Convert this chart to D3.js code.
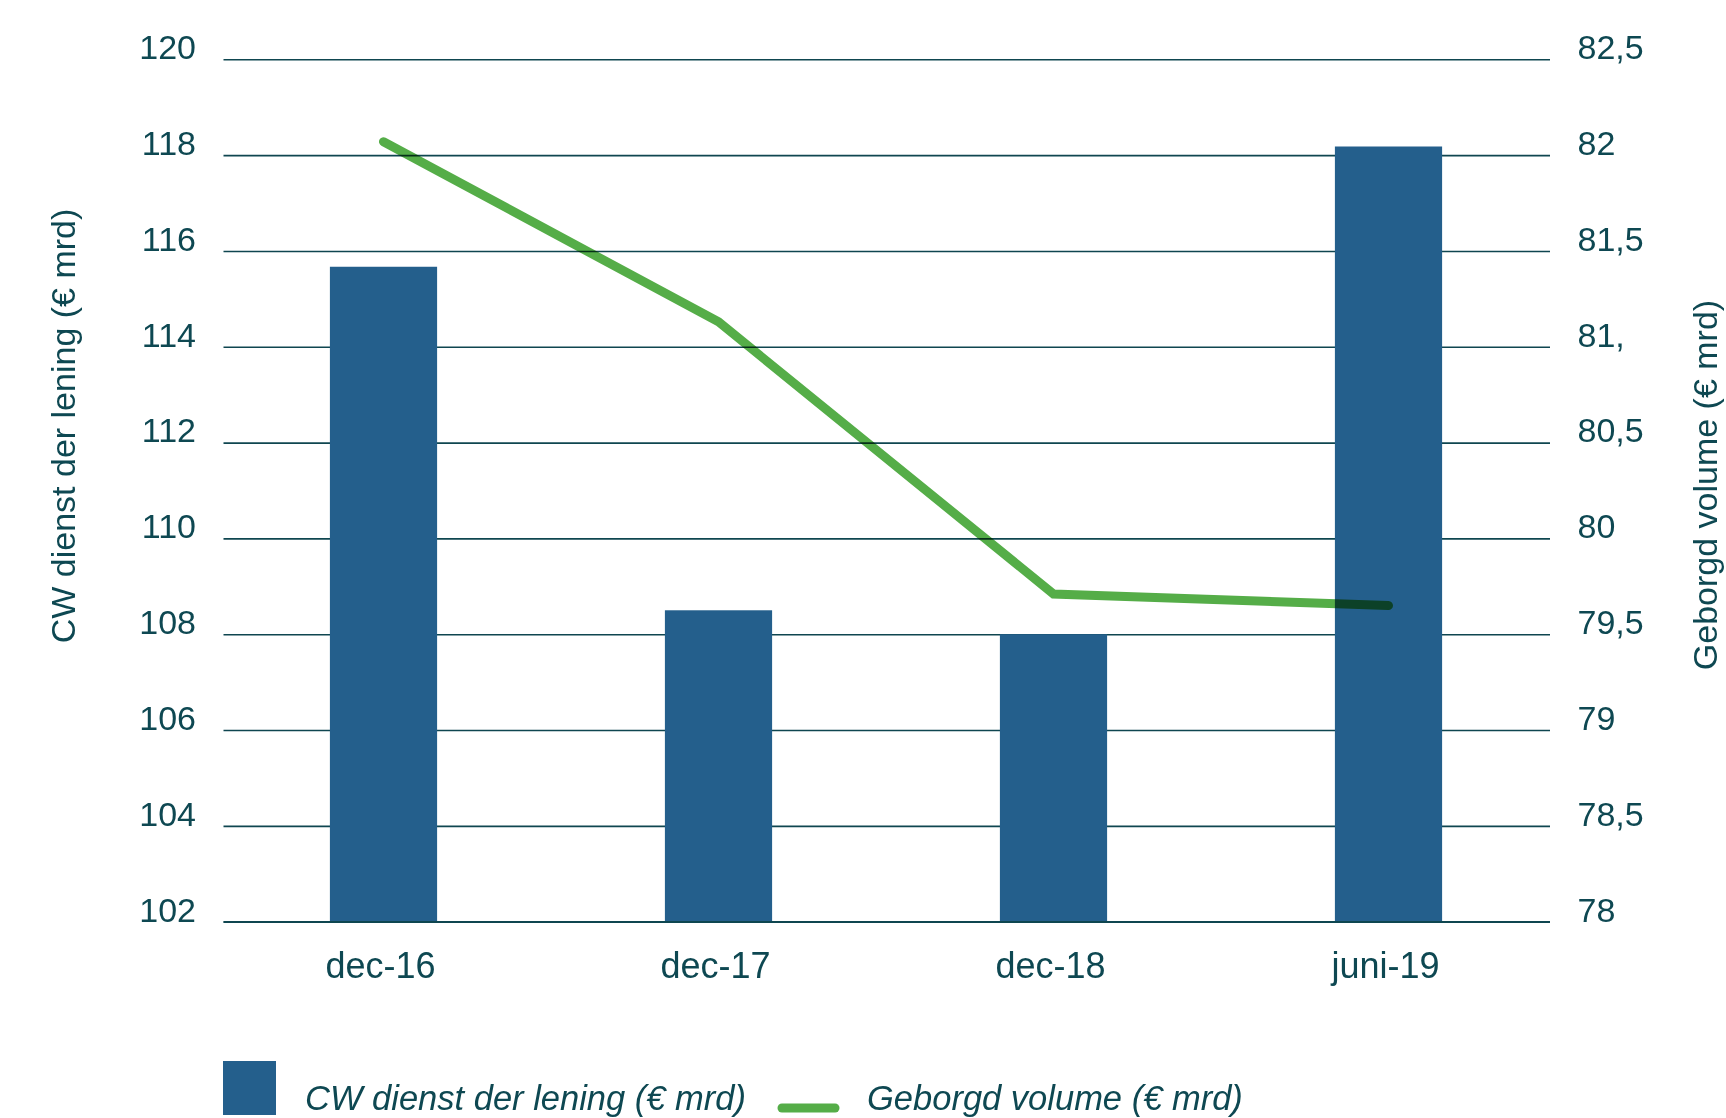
<!DOCTYPE html>
<html lang="nl">
<head>
<meta charset="utf-8">
<title>CW dienst der lening en geborgd volume</title>
<script src="https://cdn.jsdelivr.net/npm/d3@7"></script>
<style>
  html, body { margin: 0; padding: 0; background: #ffffff; }
  svg { display: block; }
  text { font-family: "Liberation Sans", Arial, Helvetica, sans-serif; fill: #0e4852; }
</style>
</head>
<body>
<svg id="chart" width="1726" height="1118"></svg>
<script>
// Periods on the x axis
const categories = ["dec-16", "dec-17", "dec-18", "juni-19"];
// CW dienst der lening (€ mrd), left axis, bars
const cwValues = [115.67, 108.5, 108.0, 118.18];
// Geborgd volume (€ mrd), right axis, line
const volumeValues = [82.07, 81.13, 79.71, 79.65];
// Axis ticks and their labels
const leftTicks = [102, 104, 106, 108, 110, 112, 114, 116, 118, 120];
const rightTicks = [78, 78.5, 79, 79.5, 80, 80.5, 81, 81.5, 82, 82.5];
const rightTickLabels = ["78", "78,5", "79", "79,5", "80", "80,5", "81,", "81,5", "82", "82,5"];
const leftTitle = "CW dienst der lening (€ mrd)";
const rightTitle = "Geborgd volume (€ mrd)";

const barColor = "#245f8c";
const lineColor = "#55ad48";
const gridColor = "#0f4650";
const fontSize = 34;

const svg = d3.select("#chart");

const plotLeft = 223.5, plotRight = 1550, plotTop = 59.3, plotBottom = 921.7;

const x = d3.scaleBand()
  .domain(categories)
  .range([216, 1556])
  .paddingInner(0.68)
  .paddingOuter(0.34);

const yLeft = d3.scaleLinear().domain([102, 120]).range([plotBottom, plotTop]);
const yRight = d3.scaleLinear().domain([78, 82.5]).range([plotBottom, plotTop]);

// Left axis with horizontal gridlines
const leftAxis = svg.append("g")
  .attr("transform", `translate(${plotLeft},0)`)
  .call(d3.axisLeft(yLeft)
    .tickValues(leftTicks)
    .tickSize(-(plotRight - plotLeft))
    .tickFormat(d3.format("d")));
leftAxis.select(".domain").remove();
leftAxis.selectAll(".tick line")
  .attr("stroke", gridColor)
  .attr("stroke-width", 1.6);
leftAxis.selectAll(".tick text")
  .attr("x", -27.5)
  .attr("dy", "-0.02em")
  .attr("font-size", fontSize)
  .style("fill", "#0e4852")
  .attr("font-family", null);

// Right axis labels
const rightAxis = svg.append("g")
  .attr("transform", `translate(${plotRight},0)`)
  .call(d3.axisRight(yRight)
    .tickValues(rightTicks)
    .tickSize(0)
    .tickFormat((d, i) => rightTickLabels[i]));
rightAxis.select(".domain").remove();
rightAxis.selectAll(".tick text")
  .attr("x", 27.5)
  .attr("dy", "-0.02em")
  .attr("font-size", fontSize)
  .style("fill", "#0e4852")
  .attr("font-family", null);

// Bars
svg.append("g")
  .selectAll("rect")
  .data(categories)
  .join("rect")
  .attr("x", d => x(d))
  .attr("width", x.bandwidth())
  .attr("y", (d, i) => yLeft(cwValues[i]))
  .attr("height", (d, i) => yLeft(102) - yLeft(cwValues[i]))
  .attr("fill", barColor);

// Baseline drawn over the bars
svg.append("line")
  .attr("x1", plotLeft).attr("x2", plotRight)
  .attr("y1", yLeft(102)).attr("y2", yLeft(102))
  .attr("stroke", gridColor)
  .attr("stroke-width", 1.6);

// Volume line, multiplied over bars and gridlines
const line = d3.line()
  .x((d, i) => x(categories[i]) + x.bandwidth() / 2)
  .y(d => yRight(d));
svg.append("path")
  .datum(volumeValues)
  .attr("d", line)
  .attr("fill", "none")
  .attr("stroke", lineColor)
  .attr("stroke-width", 9)
  .attr("stroke-linecap", "round")
  .style("mix-blend-mode", "multiply");

// Category labels
svg.append("g")
  .selectAll("text")
  .data(categories)
  .join("text")
  .attr("x", d => x(d) + x.bandwidth() / 2 - 3)
  .attr("y", 977.5)
  .attr("text-anchor", "middle")
  .attr("font-size", 36)
  .text(d => d);

// Axis titles
svg.append("text")
  .attr("transform", `translate(75,426) rotate(-90)`)
  .attr("text-anchor", "middle")
  .attr("font-size", fontSize)
  .text(leftTitle);

svg.append("text")
  .attr("transform", `translate(1717,485) rotate(-90)`)
  .attr("text-anchor", "middle")
  .attr("font-size", fontSize)
  .text(rightTitle);

// Legend
const legend = svg.append("g");
legend.append("rect")
  .attr("x", 223).attr("y", 1061)
  .attr("width", 53).attr("height", 54)
  .attr("fill", barColor);
legend.append("text")
  .attr("x", 305).attr("y", 1110)
  .attr("font-size", 34.5)
  .attr("font-style", "italic")
  .text(leftTitle);
legend.append("line")
  .attr("x1", 782).attr("x2", 835)
  .attr("y1", 1108).attr("y2", 1108)
  .attr("stroke", lineColor)
  .attr("stroke-width", 9)
  .attr("stroke-linecap", "round");
legend.append("text")
  .attr("x", 867).attr("y", 1110)
  .attr("font-size", 34.5)
  .attr("font-style", "italic")
  .text(rightTitle);
</script>
</body>
</html>
